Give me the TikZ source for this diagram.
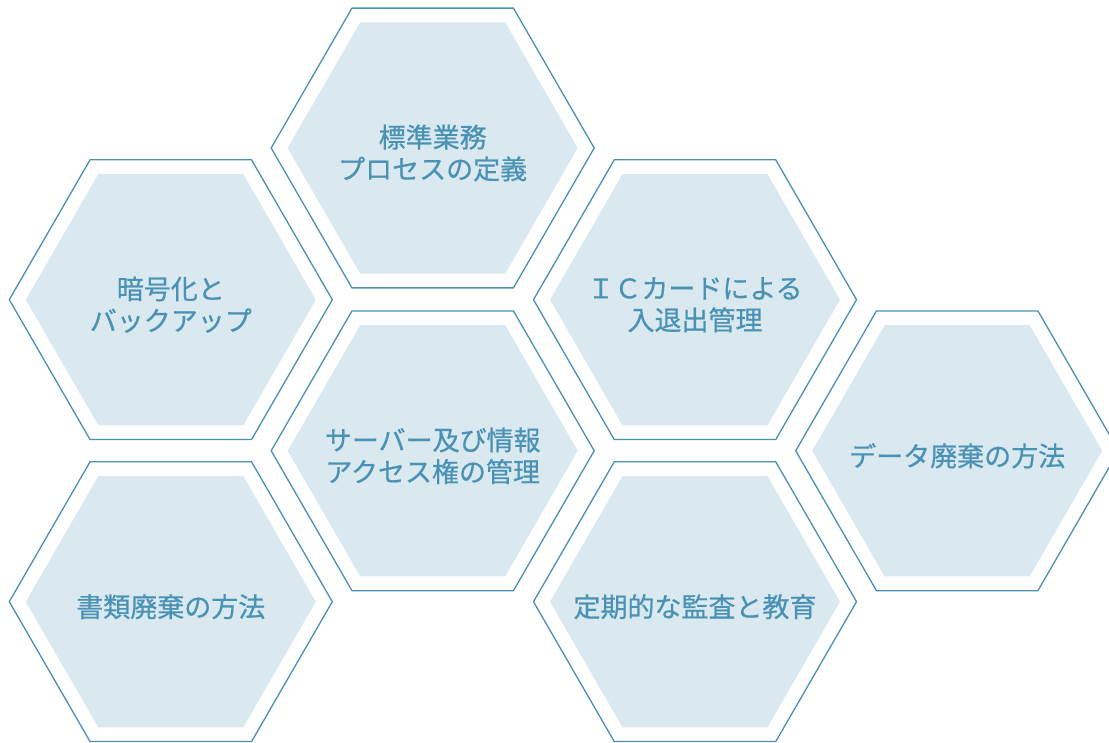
\documentclass[tikz,border=0pt]{standalone}
\usepackage{fontspec}
\setmainfont{Noto Sans CJK JP}[FakeBold=0.6]
\definecolor{hexline}{HTML}{4A90B5}
\definecolor{hexfill}{HTML}{DAE8F0}
\definecolor{hextext}{HTML}{4A92B4}
\tikzset{
  hexout/.style={draw=hexline, line width=1.3pt, line join=miter},
  hexin/.style={fill=hexfill},
  hexlabel/.style={text=hextext, font=\fontsize{27}{31.7}\selectfont, align=center, inner sep=0pt},
}
\newcommand\hexcell[4]{%
  \begin{scope}[shift={(#2,#3)}]
    \draw[hexout] (0:161.5) -- (60:161.5) -- (120:161.5) -- (180:161.5) -- (240:161.5) -- (300:161.5) -- cycle;
    \fill[hexin] (0:145) -- (60:145) -- (120:145) -- (180:145) -- (240:145) -- (300:145) -- cycle;
  \end{scope}
  \node[hexlabel] (#1) at (#2,#3+5) {#4};
}
\begin{document}
\begin{tikzpicture}[x=1pt,y=-1pt]
  \useasboundingbox (0,0) rectangle (1109,743);
  \clip (0,0) rectangle (1109,743);
  \hexcell{std}{432.7}{148}{標準業務\\プロセスの定義}
  \hexcell{crypt}{170.8}{299.7}{暗号化と\\バックアップ}
  \hexcell{icc}{695}{299.7}{ＩＣカードによる\\入退出管理}
  \hexcell{server}{432.7}{450.8}{サーバー及び情報\\アクセス権の管理}
  \hexcell{data}{957.2}{450.8}{データ廃棄の方法}
  \hexcell{paper}{170.8}{601.7}{書類廃棄の方法}
  \hexcell{audit}{695}{601.7}{定期的な監査と教育}
\end{tikzpicture}
\end{document}
